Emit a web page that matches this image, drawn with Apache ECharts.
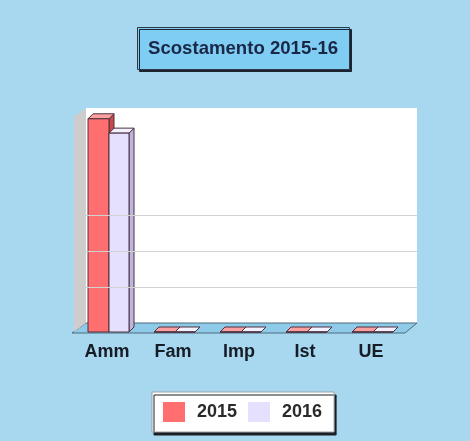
<!DOCTYPE html>
<html>
<head>
<meta charset="utf-8">
<script src="https://cdn.jsdelivr.net/npm/echarts@6/dist/echarts.min.js"></script>
<style>
  html, body { margin: 0; padding: 0; background: #a8d8ef; }
  #chart { width: 470px; height: 441px; }
</style>
</head>
<body>
<div id="chart"></div>
<script>
// dati del grafico
const categories = ['Amm', 'Fam', 'Imp', 'Ist', 'UE'];
const values2015 = [5.95, 0, 0, 0, 0];
const values2016 = [5.55, 0, 0, 0, 0];
const seriesNames = ['2015', '2016'];
const wallLines = [1, 2, 3];

// geometria pseudo 3D
const FRONT = { left: 74, top: 117, width: 330, height: 215 };
const DEPTH_X = 12, DEPTH_Y = -9;   // parete di fondo
const BAR_DX = 5, BAR_DY = -5;      // spessore barre
const Y_MAX = 6;

const chart = echarts.init(document.getElementById('chart'));

// barra 3D (fronte + lato + tetto)
function bar3d(from, to, colors) {
  return function (params, api) {
    const c = api.coord([api.value(0), api.value(1)]);
    const base = api.coord([api.value(0), 0]);
    const x0 = c[0] + from, x1 = c[0] + to;
    const top = c[1], bot = base[1];
    const stroke = '#4a3040';
    return {
      type: 'group',
      children: [
        { type: 'polygon', shape: { points: [[x1, bot], [x1 + BAR_DX, bot + BAR_DY], [x1 + BAR_DX, top + BAR_DY], [x1, top]] },
          style: { fill: colors.side, stroke: stroke, lineWidth: 1 } },
        { type: 'polygon', shape: { points: [[x0, top], [x0 + BAR_DX, top + BAR_DY], [x1 + BAR_DX, top + BAR_DY], [x1, top]] },
          style: { fill: colors.top, stroke: stroke, lineWidth: 1 } },
        { type: 'rect', shape: { x: x0, y: top, width: x1 - x0, height: bot - top },
          style: { fill: colors.front, stroke: stroke, lineWidth: 1 } }
      ]
    };
  };
}

const red = { front: '#ff6f6f', top: '#ffa0a0', side: '#c84848' };
const lilac = { front: '#e6e0ff', top: '#f4f1ff', side: '#bdb5dc' };

const L = FRONT.left, B = FRONT.top + FRONT.height, R = FRONT.left + FRONT.width;

const option = {
  backgroundColor: '#a8d8ef',
  animation: false,
  title: {
    text: 'Scostamento 2015-16',
    left: 137, top: 27,
    padding: [12, 12, 12, 11],
    backgroundColor: '#80cdf3',
    borderColor: '#2c3a48',
    borderWidth: 1,
    shadowColor: '#1c2430', shadowOffsetX: 2, shadowOffsetY: 2, shadowBlur: 0,
    textStyle: { fontFamily: 'Liberation Sans', fontSize: 18.6, fontWeight: 'bold', color: '#1a2848' }
  },
  legend: {
    data: seriesNames,
    left: 152, top: 392,
    padding: [10, 12, 10, 11],
    itemWidth: 22, itemHeight: 20, itemGap: 11,
    icon: 'rect',
    backgroundColor: '#ffffff',
    borderColor: '#9aa4aa', borderWidth: 1,
    shadowColor: '#1c2024', shadowOffsetX: 2, shadowOffsetY: 3, shadowBlur: 0,
    textStyle: { fontFamily: 'Liberation Sans', fontSize: 18, fontWeight: 'bold', color: '#2a2a2a', padding: [0, 0, 0, 7] }
  },
  grid: [
    { left: L, top: FRONT.top, width: FRONT.width, height: FRONT.height, show: false },
    { left: L + DEPTH_X, top: FRONT.top + DEPTH_Y, width: FRONT.width + 1, height: FRONT.height,
      show: true, backgroundColor: '#ffffff', borderWidth: 0, z: 0 }
  ],
  xAxis: [
    { type: 'category', data: categories, gridIndex: 0,
      axisLine: { show: false }, axisTick: { show: false }, splitLine: { show: false },
      axisLabel: { margin: 11, fontFamily: 'Liberation Sans', fontSize: 18, fontWeight: 'bold', color: '#161c26' } },
    { type: 'category', data: categories, gridIndex: 1, show: false }
  ],
  yAxis: [
    { type: 'value', min: 0, max: Y_MAX, gridIndex: 0, show: false, splitLine: { show: false } },
    { type: 'value', min: 0, max: Y_MAX, gridIndex: 1, show: false, splitLine: { show: false } }
  ],
  graphic: [
    { type: 'polygon', z: 1, silent: true,
      shape: { points: [[L - 2, B + 1], [R + 1, B + 1], [R + DEPTH_X + 1, B + DEPTH_Y], [L + DEPTH_X, B + DEPTH_Y]] },
      style: { fill: '#8ecbe9', stroke: '#4e6a7c', lineWidth: 1 } },
    { type: 'polygon', z: 1, silent: true,
      shape: { points: [[L, B], [L + DEPTH_X, B + DEPTH_Y], [L + DEPTH_X, FRONT.top + DEPTH_Y], [L, FRONT.top]] },
      style: { fill: '#cdcdcd' } }
  ],
  series: [
    { type: 'line', name: 'wall', xAxisIndex: 1, yAxisIndex: 1, data: [], silent: true,
      markLine: { symbol: 'none', silent: true, label: { show: false },
        lineStyle: { color: '#d2d2d2', type: 'solid', width: 1 },
        data: wallLines.map(v => ({ yAxis: v })) } },
    { type: 'custom', name: seriesNames[0], xAxisIndex: 0, yAxisIndex: 0, z: 3,
      itemStyle: { color: red.front },
      renderItem: bar3d(-19, 2, red),
      encode: { x: 0, y: 1 },
      data: values2015.map((v, i) => [i, v]) },
    { type: 'custom', name: seriesNames[1], xAxisIndex: 0, yAxisIndex: 0, z: 4,
      itemStyle: { color: lilac.front },
      renderItem: bar3d(2, 22, lilac),
      encode: { x: 0, y: 1 },
      data: values2016.map((v, i) => [i, v]) }
  ]
};

chart.setOption(option);
</script>
</body>
</html>
